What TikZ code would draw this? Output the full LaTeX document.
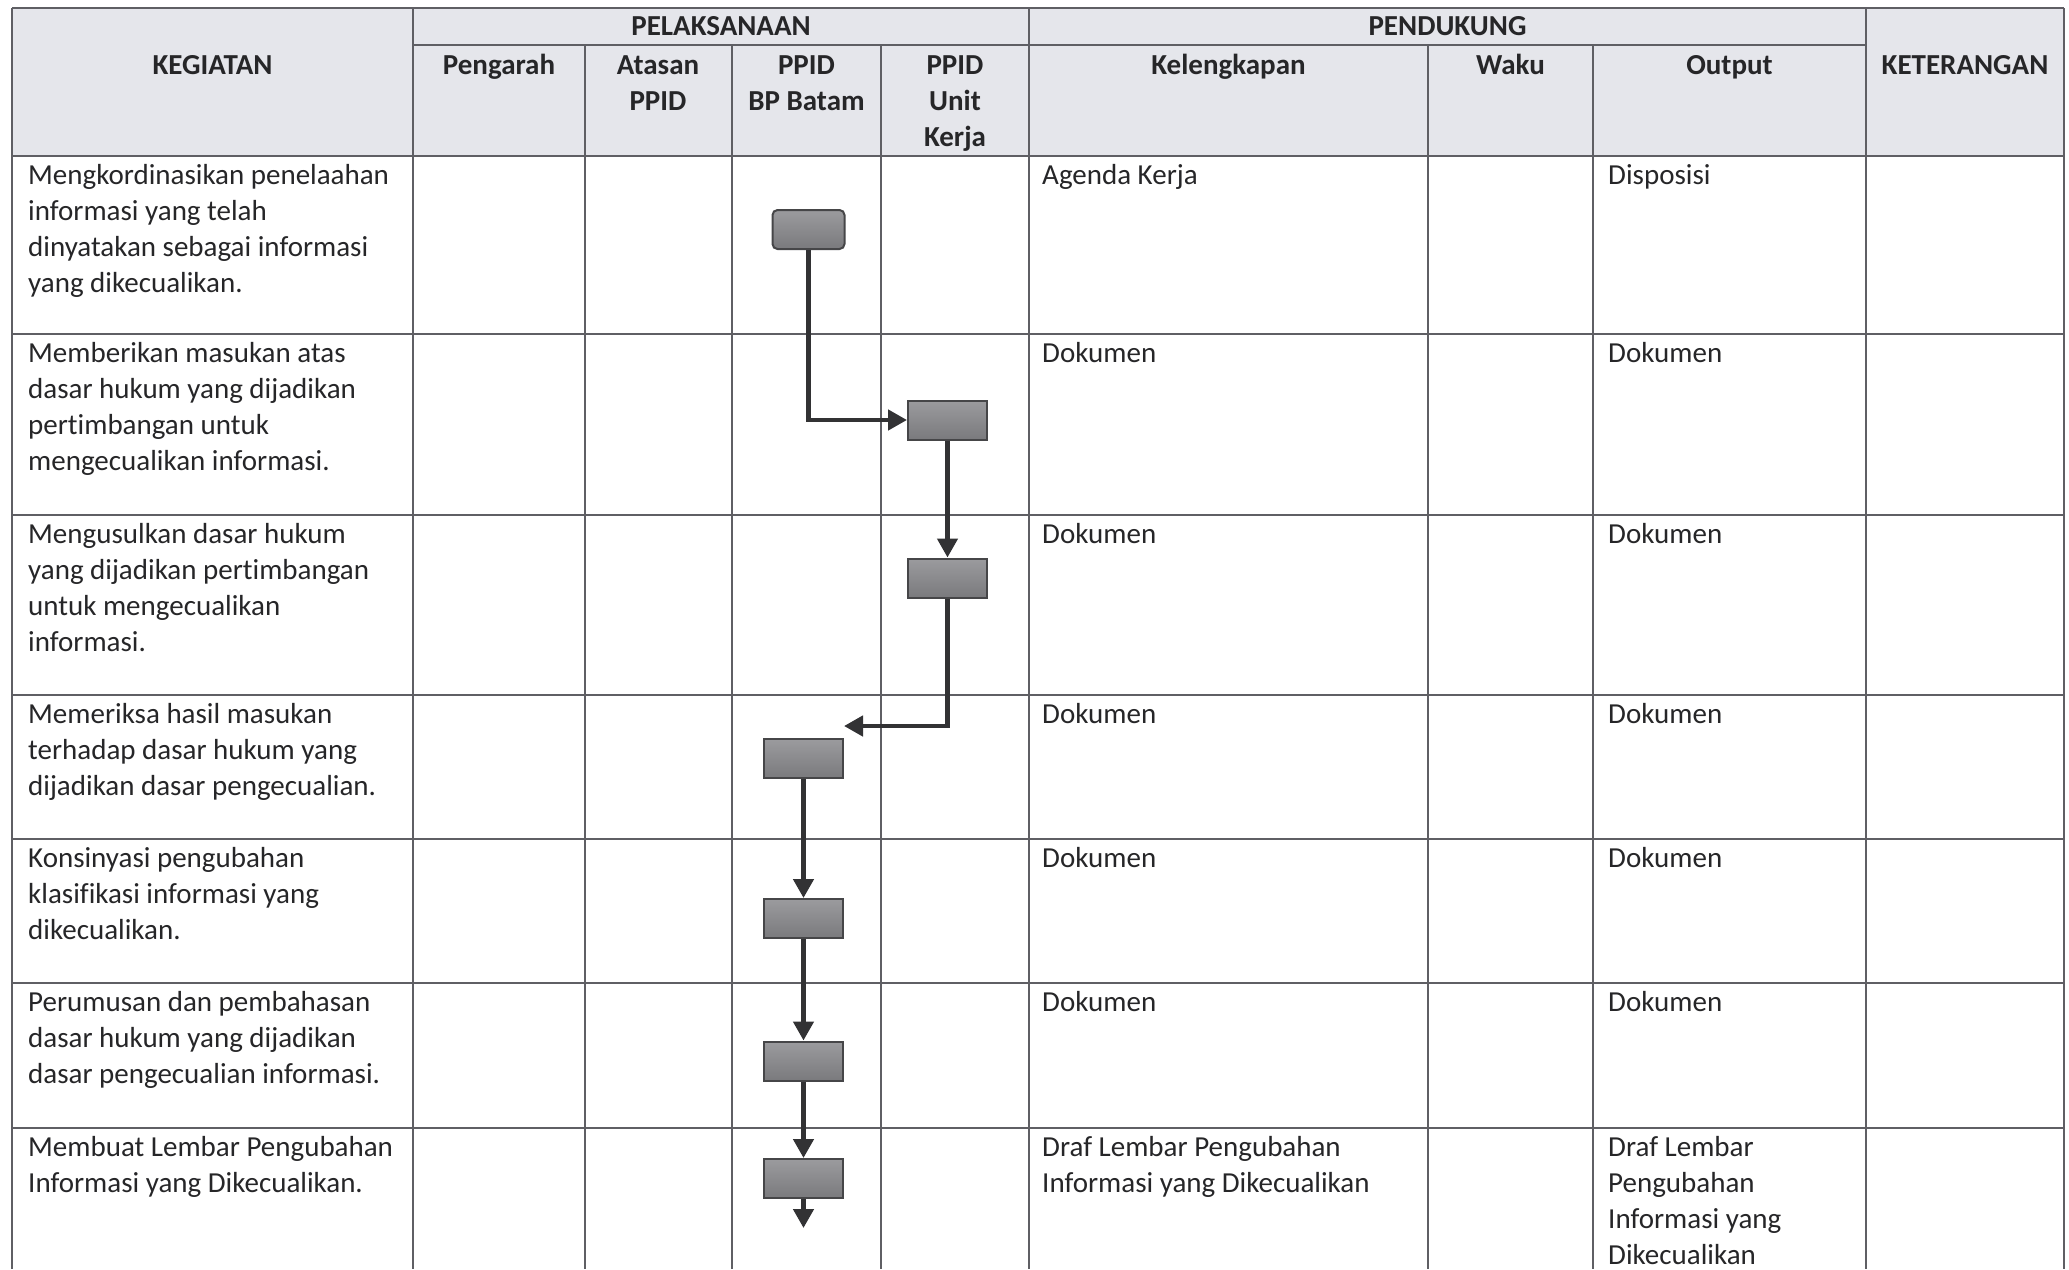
\documentclass[tikz,border=0pt]{standalone}
\usepackage{fontspec}
\setmainfont{Carlito}[Ligatures=NoCommon]
\usetikzlibrary{arrows.meta}
\definecolor{hdfill}{RGB}{229,230,235}
\definecolor{gridc}{RGB}{95,95,100}
\definecolor{txtc}{RGB}{38,38,40}
\definecolor{boxtop}{RGB}{155,155,158}
\definecolor{boxbot}{RGB}{122,122,125}
\definecolor{boxline}{RGB}{70,70,72}
\definecolor{arrc}{RGB}{50,50,52}
\tikzset{
  gridline/.style={draw=gridc, line width=2pt},
  hd/.style={anchor=north, align=center, inner sep=0pt, text=txtc,
    font=\fontsize{29}{36}\selectfont\bfseries},
  tx/.style={anchor=north west, align=left, inner sep=0pt, text=txtc,
    font=\fontsize{29}{36}\selectfont},
  stepbox/.style={draw=boxline, line width=2pt, top color=boxtop, bottom color=boxbot,
    minimum width=79pt, minimum height=39pt, inner sep=0pt},
  arr/.style={draw=arrc, line width=4.5pt, -{Triangle[length=19pt,width=20pt]}}
}
\begin{document}
\begin{tikzpicture}[x=1pt,y=-1pt]
\fill[white] (0,0) rectangle (2069,1269);
\useasboundingbox (0,0) rectangle (2069,1269);
% header fill
\fill[hdfill] (12,8) rectangle (2064,156);
% grid
\draw[gridline] (12,8) -- (2064,8);
\draw[gridline] (413,45) -- (1866,45);
\foreach \y in {156,334,515,695,839,983,1128} {\draw[gridline] (12,\y) -- (2064,\y);}
\foreach \x in {12,413,1029,1866,2064} {\draw[gridline] (\x,8) -- (\x,1269);}
\foreach \x in {584.5,732,881,1428,1593} {\draw[gridline] (\x,45) -- (\x,1269);}
% header texts (baseline - 25.2)
\node[hd] (hkeg) at (212.5,49) {\strut KEGIATAN};
\node[hd] (hpel) at (721,10) {\strut PELAKSANAAN};
\node[hd] (hpen) at (1447.5,10) {\strut PENDUKUNG};
\node[hd] (hket) at (1965,49) {\strut KETERANGAN};
\node[hd] (hpeng) at (499,49) {\strut Pengarah};
\node[hd] (hata) at (658,49) {\strut Atasan\\PPID};
\node[hd] (hbp) at (806.5,49) {\strut PPID\\BP Batam};
\node[hd] (hunit) at (955,49) {\strut PPID\\Unit\\Kerja};
\node[hd] (hkel) at (1228.5,49) {\strut Kelengkapan};
\node[hd] (hwaku) at (1510.5,49) {\strut Waku};
\node[hd] (hout) at (1729.5,49) {\strut Output};
% activity texts (row top + 28 - 25.2)
\node[tx] (t1) at (28,159) {\strut Mengkordinasikan penelaahan\\informasi yang telah\\dinyatakan sebagai informasi\\yang dikecualikan.};
\node[tx] (t2) at (28,337) {\strut Memberikan masukan atas\\dasar hukum yang dijadikan\\pertimbangan untuk\\mengecualikan informasi.};
\node[tx] (t3) at (28,518) {\strut Mengusulkan dasar hukum\\yang dijadikan pertimbangan\\untuk mengecualikan\\informasi.};
\node[tx] (t4) at (28,698) {\strut Memeriksa hasil masukan\\terhadap dasar hukum yang\\dijadikan dasar pengecualian.};
\node[tx] (t5) at (28,842) {\strut Konsinyasi pengubahan\\klasifikasi informasi yang\\dikecualikan.};
\node[tx] (t6) at (28,986) {\strut Perumusan dan pembahasan\\dasar hukum yang dijadikan\\dasar pengecualian informasi.};
\node[tx] (t7) at (28,1131) {\strut Membuat Lembar Pengubahan\\Informasi yang Dikecualikan.};
% kelengkapan
\node[tx] (k1) at (1042,159) {\strut Agenda Kerja};
\node[tx] (k2) at (1042,337) {\strut Dokumen};
\node[tx] (k3) at (1042,518) {\strut Dokumen};
\node[tx] (k4) at (1042,698) {\strut Dokumen};
\node[tx] (k5) at (1042,842) {\strut Dokumen};
\node[tx] (k6) at (1042,986) {\strut Dokumen};
\node[tx] (k7) at (1042,1131) {\strut Draf Lembar Pengubahan\\Informasi yang Dikecualikan};
% output
\node[tx] (o1) at (1608,159) {\strut Disposisi};
\node[tx] (o2) at (1608,337) {\strut Dokumen};
\node[tx] (o3) at (1608,518) {\strut Dokumen};
\node[tx] (o4) at (1608,698) {\strut Dokumen};
\node[tx] (o5) at (1608,842) {\strut Dokumen};
\node[tx] (o6) at (1608,986) {\strut Dokumen};
\node[tx] (o7) at (1608,1131) {\strut Draf Lembar\\Pengubahan\\Informasi yang\\Dikecualikan};
% flow boxes
\node[stepbox, minimum width=72pt, rounded corners=5pt] (b1) at (808.5,229.5) {};
\node[stepbox] (b2) at (947.5,420) {};
\node[stepbox] (b3) at (947.5,578) {};
\node[stepbox] (b4) at (803.5,758.5) {};
\node[stepbox] (b5) at (803.5,918.5) {};
\node[stepbox] (b6) at (803.5,1061) {};
\node[stepbox] (b7) at (803.5,1178.5) {};
\coordinate (c1) at (844,726);
\coordinate (c2) at (803.5,1228);
% connectors
\draw[arr] (b1.south) |- (b2.west);
\draw[arr] (b2.south) -- (b3.north);
\draw[arr] (b3.south) |- (c1);
\draw[arr] (b4.south) -- (b5.north);
\draw[arr] (b5.south) -- (b6.north);
\draw[arr] (b6.south) -- (b7.north);
\draw[arr] (b7.south) -- (c2);
\end{tikzpicture}
\end{document}
